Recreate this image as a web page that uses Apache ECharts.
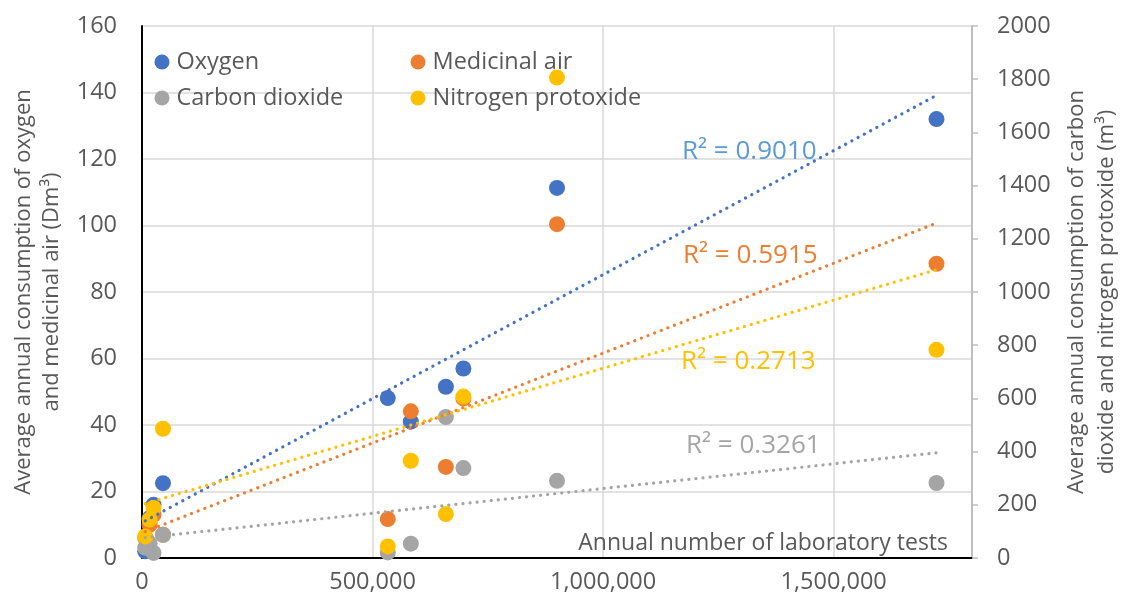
<!DOCTYPE html>
<html>
<head>
<meta charset="utf-8">
<script src="https://cdn.jsdelivr.net/npm/echarts@6/dist/echarts.min.js"></script>
<style>
html,body{margin:0;padding:0;background:#fff;}
#chart{width:1122px;height:603px;}
</style>
</head>
<body>
<div id="chart"></div>
<script>
// Annual number of laboratory tests (x)
const labTests = [7000, 16500, 25000, 45500, 533000, 583000, 659000, 697000, 900000, 1723000];
// Left axis (Dm³)
const oxygen = [2, 12, 16, 22.5, 48.1, 41, 51.5, 57, 111.3, 132];
const medicinalAir = [6, 10, 13, 7, 11.7, 44.1, 27.4, 48, 100.4, 88.5];
// Right axis (m³)
const carbonDioxide = [39, 55, 19, 87.5, 21, 53.7, 530, 338, 290, 282];
const nitrogenProtoxide = [81, 144, 188, 486, 43.6, 365.6, 165, 607, 1806, 782.6];

const seriesNames = ['Oxygen', 'Medicinal air', 'Carbon dioxide', 'Nitrogen protoxide'];
const r2Labels = ['R² = 0.9010', 'R² = 0.5915', 'R² = 0.3261', 'R² = 0.2713'];
const xAxisTitle = 'Annual number of laboratory tests';
const leftTitle = 'Average annual consumption of oxygen\nand medicinal air (Dm³)';
const rightTitle = 'Average annual consumption of carbon\ndioxide and nitrogen protoxide (m³)';

const colors = ['#4472C4', '#ED7D31', '#A5A5A5', '#FFC000'];
const r2Colors = ['#5B9BD5', '#ED7D31', '#A5A5A5', '#FFC000'];
const FONT = 'Open Sans';
const TXT = '#595959';

function pairs(ys) { return labTests.map((x, i) => [x, ys[i]]); }
function trend(ys) {
  const n = labTests.length;
  const mx = labTests.reduce((a, b) => a + b, 0) / n;
  const my = ys.reduce((a, b) => a + b, 0) / n;
  let sxy = 0, sxx = 0;
  for (let i = 0; i < n; i++) { sxy += (labTests[i] - mx) * (ys[i] - my); sxx += (labTests[i] - mx) ** 2; }
  const b = sxy / sxx, a = my - b * mx;
  const x0 = Math.min(...labTests), x1 = Math.max(...labTests);
  return [[x0, a + b * x0], [x1, a + b * x1]];
}

const allData = [oxygen, medicinalAir, carbonDioxide, nitrogenProtoxide];
const axisIdx = [0, 0, 1, 1];

const series = [];
allData.forEach((d, i) => {
  series.push({
    name: seriesNames[i], type: 'scatter', yAxisIndex: axisIdx[i],
    data: pairs(d), symbolSize: 16, itemStyle: { color: colors[i], opacity: 1 },
    z: 2 + i, silent: true
  });
});
allData.forEach((d, i) => {
  series.push({
    name: seriesNames[i] + ' trend', type: 'line', yAxisIndex: axisIdx[i],
    data: trend(d), symbol: 'none', z: 10, silent: true,
    lineStyle: { color: colors[i], width: 3.2, type: [0.1, 7], cap: 'round' }
  });
});

function r2Text(i, x, y) {
  return { type: 'text', x: x, y: y, z: 20,
    style: { text: r2Labels[i], fill: r2Colors[i], font: '26px "Open Sans"',
      align: 'left', verticalAlign: 'middle', textVerticalAlign: 'middle' } };
}

const legendText = { color: TXT, fontSize: 23.5, fontFamily: FONT, padding: [0, 0, 0, 2] };

const chart = echarts.init(document.getElementById('chart'), null, { renderer: 'canvas' });
chart.setOption({
  animation: false,
  color: colors,
  textStyle: { fontFamily: FONT },
  grid: { left: 142, right: 150, top: 26, bottom: 45, containLabel: false, outerBoundsMode: 'none' },
  legend: [
    { data: ['Oxygen', 'Carbon dioxide'], orient: 'vertical', left: 149.5, top: 45, itemGap: 12,
      icon: 'circle', itemWidth: 15, itemHeight: 15, selectedMode: false, textStyle: legendText },
    { data: ['Medicinal air', 'Nitrogen protoxide'], orient: 'vertical', left: 405.5, top: 45, itemGap: 12,
      icon: 'circle', itemWidth: 15, itemHeight: 15, selectedMode: false, textStyle: legendText }
  ],
  xAxis: {
    type: 'value', min: 0, max: 1800000, interval: 500000,
    axisLine: { show: true, onZero: false, lineStyle: { color: '#000', width: 2 } },
    axisTick: { show: false },
    axisLabel: { color: TXT, fontSize: 23.5, fontFamily: FONT, margin: 12, showMaxLabel: false,
      formatter: v => v.toLocaleString('en-US') },
    splitLine: { show: true, lineStyle: { color: '#D9D9D9', width: 1.5 } }
  },
  yAxis: [
    { type: 'value', min: 0, max: 160, interval: 20, position: 'left',
      name: leftTitle, nameLocation: 'middle', nameGap: 64,
      nameTextStyle: { color: TXT, fontSize: 22, fontFamily: FONT, lineHeight: 28 },
      axisLine: { show: true, lineStyle: { color: '#000', width: 2 } },
      axisTick: { show: false },
      axisLabel: { color: TXT, fontSize: 23.5, fontFamily: FONT, margin: 25 },
      splitLine: { show: true, lineStyle: { color: '#D9D9D9', width: 1.5 } } },
    { type: 'value', min: 0, max: 2000, interval: 200, position: 'right',
      name: rightTitle, nameLocation: 'middle', nameGap: 87,
      nameTextStyle: { color: TXT, fontSize: 22, fontFamily: FONT, lineHeight: 30 },
      axisLine: { show: true, lineStyle: { color: '#BFBFBF', width: 2 } },
      axisTick: { show: true, length: 6, lineStyle: { color: '#BFBFBF', width: 1.5 } },
      axisLabel: { color: TXT, fontSize: 23.5, fontFamily: FONT, margin: 25, formatter: v => String(v) },
      splitLine: { show: false } }
  ],
  graphic: [
    { type: 'text', x: 948, y: 543, z: 20,
      style: { text: xAxisTitle, fill: TXT, font: '23px "Open Sans"', align: 'right',
        verticalAlign: 'middle', textVerticalAlign: 'middle' } },
    r2Text(0, 682, 152),
    r2Text(1, 683, 256),
    r2Text(2, 686, 446),
    r2Text(3, 681, 362)
  ],
  series: series
});
</script>
</body>
</html>
